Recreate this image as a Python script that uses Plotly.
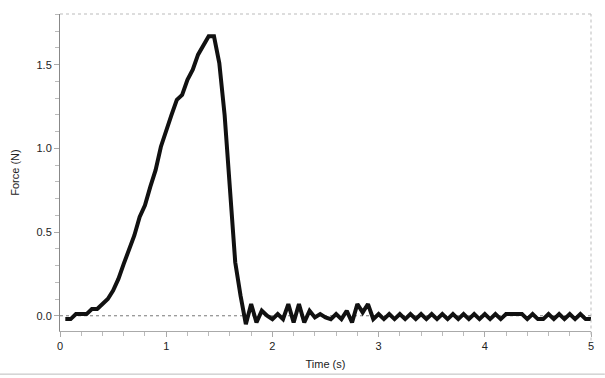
import plotly.graph_objects as go

time_s = [0.05, 0.10, 0.15, 0.20, 0.25, 0.30, 0.35, 0.40, 0.45, 0.50,
          0.55, 0.60, 0.65, 0.70, 0.75, 0.80, 0.85, 0.90, 0.95, 1.00,
          1.05, 1.10, 1.15, 1.20, 1.25, 1.30, 1.35, 1.40, 1.45, 1.50,
          1.55, 1.60, 1.65, 1.70, 1.75, 1.80, 1.85, 1.90, 1.95, 2.00,
          2.05, 2.10, 2.15, 2.20, 2.25, 2.30, 2.35, 2.40, 2.45, 2.50,
          2.55, 2.60, 2.65, 2.70, 2.75, 2.80, 2.85, 2.90, 2.95, 3.00,
          3.05, 3.10, 3.15, 3.20, 3.25, 3.30, 3.35, 3.40, 3.45, 3.50,
          3.55, 3.60, 3.65, 3.70, 3.75, 3.80, 3.85, 3.90, 3.95, 4.00,
          4.05, 4.10, 4.15, 4.20, 4.25, 4.30, 4.35, 4.40, 4.45, 4.50,
          4.55, 4.60, 4.65, 4.70, 4.75, 4.80, 4.85, 4.90, 4.95, 5.00]

force_n = [-0.02, -0.02, 0.01, 0.01, 0.01, 0.04, 0.04, 0.07, 0.10, 0.15,
           0.22, 0.31, 0.40, 0.48, 0.59, 0.66, 0.77, 0.87, 1.01, 1.11,
           1.20, 1.29, 1.32, 1.41, 1.47, 1.56, 1.62, 1.67, 1.67, 1.51,
           1.20, 0.75, 0.32, 0.12, -0.05, 0.07, -0.04, 0.03, 0.00, -0.02,
           0.01, -0.02, 0.07, -0.04, 0.07, -0.04, 0.03, -0.01, 0.01, -0.01,
           -0.02, 0.01, -0.02, 0.03, -0.04, 0.07, 0.02, 0.07, -0.02, 0.01,
           -0.02, 0.01, -0.02, 0.01, -0.02, 0.01, -0.02, 0.01, -0.02, 0.01,
           -0.02, 0.01, -0.02, 0.01, -0.02, 0.01, -0.02, 0.01, -0.02, 0.01,
           -0.02, 0.01, -0.02, 0.01, 0.01, 0.01, 0.01, -0.02, 0.01, -0.02,
           -0.02, 0.01, -0.02, 0.01, -0.02, 0.01, -0.02, 0.01, -0.02, -0.02]

x_ticks = [0, 1, 2, 3, 4, 5]
y_ticks = [0.0, 0.5, 1.0, 1.5]

fig = go.Figure()
fig.add_trace(go.Scatter(x=time_s, y=force_n, mode="lines",
                         line=dict(color="#111111", width=4), showlegend=False))

axis_font = dict(family="Liberation Sans, Arial, sans-serif", size=11, color="#222222")

fig.update_layout(
    width=605, height=378,
    margin=dict(l=60, r=14, t=14, b=47),
    paper_bgcolor="white", plot_bgcolor="white",
    font=axis_font,
    xaxis=dict(range=[0, 5], tickvals=x_ticks, ticktext=[str(v) for v in x_ticks],
               automargin=False,
               showgrid=False, zeroline=False, showline=True, linecolor="#aaaaaa",
               linewidth=1, ticks="outside", ticklen=5, tickcolor="#aaaaaa",
               minor=dict(dtick=0.2, ticks="outside", ticklen=4, tickcolor="#bbbbbb"),
               title=dict(text="Time (s)", standoff=9, font=axis_font)),
    yaxis=dict(range=[-0.091, 1.803], tickvals=y_ticks, ticktext=["0.0", "0.5", "1.0", "1.5"],
               automargin=False,
               showgrid=False, zeroline=False, showline=True, linecolor="#888888",
               linewidth=1, ticks="outside", ticklen=5, tickcolor="#aaaaaa",
               minor=dict(dtick=0.1, tick0=0, ticks="outside", ticklen=4, tickcolor="#bbbbbb"),
               title=dict(text="Force (N)", standoff=14, font=axis_font)),
    shapes=[
        dict(type="line", xref="paper", yref="y", x0=0, x1=1, y0=0, y1=0,
             line=dict(color="#777777", width=1, dash="dot"), layer="below"),
        dict(type="line", xref="paper", yref="paper", x0=0, x1=1, y0=1, y1=1,
             line=dict(color="#bbbbbb", width=1, dash="dot")),
        dict(type="line", xref="paper", yref="paper", x0=1, x1=1, y0=-0.03, y1=1,
             line=dict(color="#bbbbbb", width=1, dash="dot")),
        dict(type="line", xref="paper", yref="paper", x0=-0.113, x1=1.026, y0=-0.136, y1=-0.136,
             line=dict(color="#bbbbbb", width=1)),
    ],
)

fig.write_html("out.html")
